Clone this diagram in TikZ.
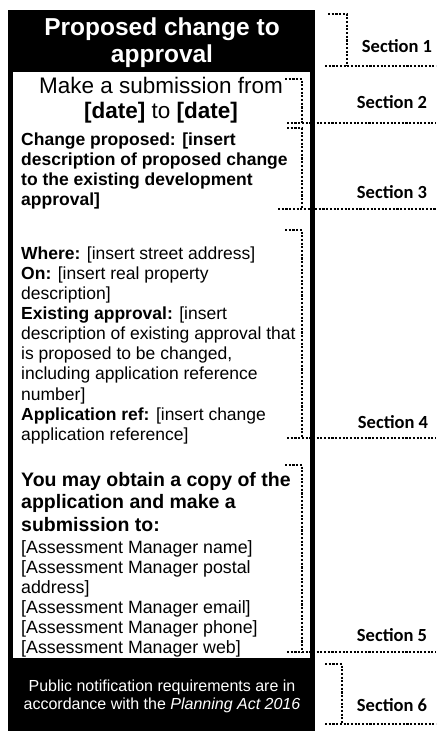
\documentclass[tikz,border=0pt]{standalone}
\usepackage{fontspec}
\setmainfont{Liberation Sans}
\newfontfamily\labelfont{Carlito}
\begin{document}
\begin{tikzpicture}[
    x=1pt, y=-1pt,
    dots/.style={line width=2.1pt, dash pattern=on 2.1pt off 1.6pt},
    seclabel/.style={font=\labelfont\bfseries\fontsize{18.5}{20}\selectfont, inner sep=0pt},
    body/.style={anchor=north west, align=left, inner sep=0pt},
    ]
    \useasboundingbox (0,0) rectangle (439,731);
    \fill (8,10) rectangle (315,731);
    \fill[white] (13,72) rectangle (310,658);
    \node[white, font=\bfseries\fontsize{24.5}{27}\selectfont, align=center, inner sep=0pt] (title) at (162,43) {Proposed change to\\approval};
    \node[font=\fontsize{22.5}{25}\selectfont, align=center, inner sep=0pt] (dates) at (161,100) {Make a submission from\\ \textbf{[date]} to \textbf{[date]}};
    \node[body, font=\bfseries\fontsize{17.5}{19.8}\selectfont] (change) at (21,133) {Change proposed: [insert\\description of proposed change\\to the existing development\\approval]};
    \node[body, font=\fontsize{17.5}{20.1}\selectfont] (site) at (21,246.5) {\textbf{Where:} [insert street address]\\\textbf{On:} [insert real property\\description]\\\textbf{Existing approval:} [insert\\description of existing approval that\\is proposed to be changed,\\including application reference\\number]\\\textbf{Application ref:} [insert change\\application reference]};
    \node[body, font=\bfseries\fontsize{19.5}{22.5}\selectfont] (copy) at (21,472) {You may obtain a copy of the\\application and make a\\submission to:};
    \node[body, font=\fontsize{17.8}{20}\selectfont] (manager) at (21,540.4) {[Assessment Manager name]\\{}[Assessment Manager postal\\address]\\{}[Assessment Manager email]\\{}[Assessment Manager phone]\\{}[Assessment Manager web]};
    \node[white, font=\fontsize{16}{18}\selectfont, align=center, inner sep=0pt] (act) at (162,696) {Public notification requirements are in\\accordance with the \textit{Planning Act 2016}};
    % section brackets
    \draw[dots] (328,14) -- (347,14) -- (347,66);
    \draw[dots] (325,66) -- (436,66);
    \draw[dots] (285,79) -- (302,79) -- (302,123);
    \draw[dots] (287,123) -- (436,123);
    \draw[dots] (287,128) -- (302,128) -- (302,209);
    \draw[dots] (278,209) -- (436,209);
    \draw[dots] (285,230) -- (302,230) -- (302,438);
    \draw[dots] (287,438) -- (436,438);
    \draw[dots] (285,465) -- (302,465) -- (302,652);
    \draw[dots] (287,652) -- (436,652);
    \draw[dots] (325,664) -- (342,664) -- (342,724);
    \draw[dots] (325,724) -- (436,724);
    \node[seclabel] (s1) at (397,46) {Section 1};
    \node[seclabel] (s2) at (392,102) {Section 2};
    \node[seclabel] (s3) at (392,192) {Section 3};
    \node[seclabel] (s4) at (393,422) {Section 4};
    \node[seclabel] (s5) at (392,635) {Section 5};
    \node[seclabel] (s6) at (392,705) {Section 6};
\end{tikzpicture}
\end{document}
